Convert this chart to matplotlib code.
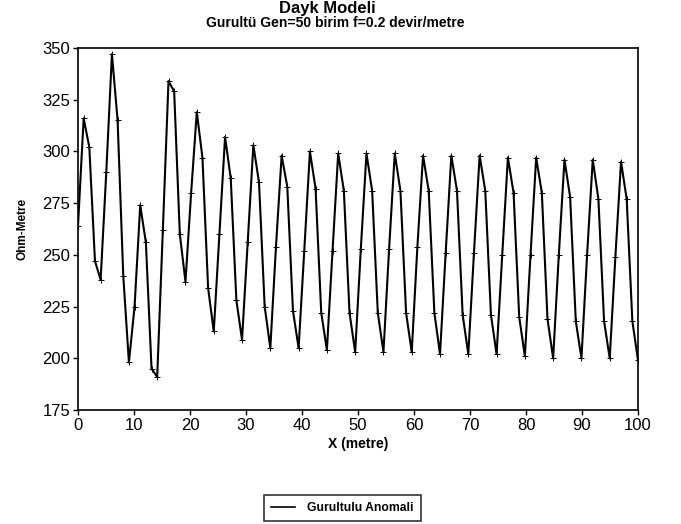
import numpy as np
import matplotlib
matplotlib.use("Agg")
import matplotlib.pyplot as plt

plt.rcParams['font.family'] = ['Liberation Sans', 'DejaVu Sans']

title = "Dayk Modeli"
subtitle = "Gurultü Gen=50 birim f=0.2 devir/metre"
x_label = "X (metre)"
y_label = "Ohm-Metre"
series_name = "Gurultulu Anomali"

resistivity = [
    264, 316, 302, 247, 238, 290, 347, 315, 240, 198,
    225, 274, 256, 195, 191, 262, 334, 329, 260, 237,
    280, 319, 297, 234, 213, 260, 307, 287, 228, 209,
    256, 303, 285, 225, 205, 254, 298, 283, 223, 205,
    252, 300, 282, 222, 204, 252, 299, 281, 222, 203,
    253, 299, 281, 222, 203, 253, 299, 281, 222, 203,
    254, 298, 281, 222, 202, 251, 298, 281, 221, 202,
    251, 298, 281, 221, 202, 250, 297, 280, 220, 201,
    250, 297, 280, 219, 200, 250, 296, 278, 218, 200,
    250, 296, 277, 218, 200, 249, 295, 277, 218, 199,
]
x_positions = np.linspace(0, 100, len(resistivity))

x_ticks = [0, 10, 20, 30, 40, 50, 60, 70, 80, 90, 100]
y_ticks = [175, 200, 225, 250, 275, 300, 325, 350]

fig = plt.figure(figsize=(6.81, 5.24), dpi=100)
ax = fig.add_axes([78/681, 1 - 410/524, (638-78)/681, (410-48)/524])

ax.plot(x_positions, resistivity, color='black', linewidth=1.5,
        marker='+', markersize=4, markeredgewidth=0.7, label=series_name)

ax.set_xlim(0, 100)
ax.set_ylim(175, 350)
ax.set_xticks(x_ticks)
ax.set_yticks(y_ticks)
ax.tick_params(axis='both', direction='out', length=3.5, width=1, pad=2,
               labelsize=12, colors='black')
ax.tick_params(top=False, right=False)
for s in ax.spines.values():
    s.set_linewidth(1.2)
    s.set_color('black')

ax.set_xlabel(x_label, fontsize=10, fontweight='bold', labelpad=3)
ax.set_ylabel(y_label, fontsize=8.5, fontweight='bold', labelpad=10)

fig.text(0.481, 0.984, title, ha='center', va='center', fontsize=12, fontweight='bold')
fig.text(0.492, 0.957, subtitle, ha='center', va='center', fontsize=10, fontweight='bold')

handles, labels = ax.get_legend_handles_labels()
leg = fig.legend([plt.Line2D([], [], color='black', linewidth=1.2)], labels,
                 loc='center', bbox_to_anchor=(0.503, 0.031),
                 frameon=True, fancybox=False, prop={'size': 8.7, 'weight': 'bold'},
                 handlelength=2.0, borderpad=0.6, handletextpad=1.0)
leg.get_frame().set_edgecolor('black')
leg.get_frame().set_linewidth(1.2)

fig.savefig("out.png", dpi=100)
